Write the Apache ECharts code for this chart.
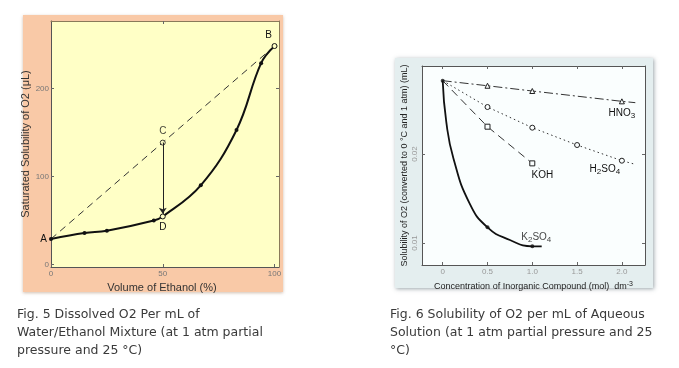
<!DOCTYPE html>
<html><head><meta charset="utf-8">
<script src="https://cdn.jsdelivr.net/npm/echarts@6/dist/echarts.min.js"></script>
<style>html,body{margin:0;padding:0;background:#fff}#c{width:679px;height:368px}</style>
</head><body><div id="c"></div>
<script>
// ---------- Fig. 5 : water / ethanol ----------
const ethanolPct     = [0, 15, 25, 46, 50, 67, 83, 94, 100];
const o2SolubilityUL = [28.9, 35.7, 38.3, 50, 54.5, 90, 153, 229, 248.5];
const idealLineX = [0, 100];
const idealLineY = [28.9, 248.5];
const pointCX = 50, pointCY = 138.6;
const arrowEndY = 57.5;
const fig5XTicks = [0, 50, 100];
const fig5YTicks = [0, 100, 200];
const fig5Labels = {0: 'A', 4: 'D', 8: 'B'};

// ---------- Fig. 6 : aqueous solutions ----------
const originX = 0, originY = 0.02824;
const hno3X = [0.5, 1.0, 2.0];
const hno3Y = [0.02767, 0.02708, 0.02592];
const hno3End = [2.15, 0.02577];
const h2so4X = [0.5, 1.0, 1.5, 2.0];
const h2so4Y = [0.02528, 0.02296, 0.02101, 0.01925];
const h2so4End = [2.15, 0.01884];
const kohX = [0.5, 1.0];
const kohY = [0.02307, 0.01895];
const kohEnd = [1.08, 0.01835];
const k2so4X = [0.5, 1.0];
const k2so4Y = [0.01176, 0.00963];
const k2so4CurveX = [0, 0.04, 0.12, 0.3, 0.5, 0.75, 1.0, 1.105];
const k2so4CurveY = [0.02824, 0.0236, 0.0195, 0.01446, 0.01176, 0.01034, 0.00963, 0.00963];
const fig6XTicks = [0, 0.5, 1.0, 1.5, 2.0];
const fig6YTicks = [0.01, 0.02];

const caption5 = 'Fig. 5 Dissolved O2 Per mL of\nWater/Ethanol Mixture (at 1 atm partial\npressure and 25 °C)';
const caption6 = 'Fig. 6 Solubility of O2 per mL of Aqueous\nSolution (at 1 atm partial pressure and 25\n°C)';

const zip = (xs, ys) => xs.map((x, i) => [x, ys[i]]);
const AX = 'Liberation Sans';

function frameAxis(kind, grid, pos, min, max, ticks, opts) {
  opts = opts || {};
  return Object.assign({
    type: 'value', gridIndex: grid, position: pos, min: min, max: max,
    splitLine: {show: false},
    axisLine: {show: true, onZero: false, lineStyle: {color: opts.lineColor || '#555', width: 1}},
    axisTick: {show: true, inside: true, length: 3, customValues: ticks, lineStyle: {color: '#666'}},
    axisLabel: {show: false}
  }, opts.extra || {});
}

const chart = echarts.init(document.getElementById('c'), null, {renderer: 'canvas'});

const fig5Curve = ethanolPct.map((x, i) => {
  const item = {value: [x, o2SolubilityUL[i]]};
  if (i === 4 || i === 8) {
    item.symbolSize = 5;
    item.itemStyle = {color: '#ffffc6', borderColor: '#111', borderWidth: 1};
  }
  if (fig5Labels[i]) {
    const pos = i === 0 ? 'left' : (i === 4 ? 'bottom' : 'top');
    item.label = {show: true, formatter: fig5Labels[i], position: pos,
      distance: i === 0 ? 2 : 3, offset: i === 8 ? [-6, 0] : [0, 0],
      fontFamily: AX, fontSize: 10, color: '#111'};
  }
  return item;
});

function openSeries(name, xs, ys, end, symbol, dash, labelRich, labelOpt) {
  const data = [{value: [originX, originY], symbol: 'none'}];
  xs.forEach((x, i) => {
    const it = {value: [x, ys[i]]};
    if (i === xs.length - 1) {
      it.label = Object.assign({show: true, formatter: labelRich, fontFamily: AX, fontSize: 10, color: '#111',
        rich: {
          n: {fontFamily: AX, fontSize: 10, color: '#111', lineHeight: 12},
          s: {fontFamily: AX, fontSize: 8, color: '#111', lineHeight: 9, verticalAlign: 'bottom', padding: [3, 0, 0, 0]}
        }}, labelOpt);
    }
    data.push(it);
  });
  data.push({value: end, symbol: 'none'});
  return {
    name: name, type: 'line', xAxisIndex: 2, yAxisIndex: 2, data: data,
    symbol: symbol, symbolSize: 5, showAllSymbol: true,
    itemStyle: {color: '#fafefe', borderColor: '#222', borderWidth: 1},
    lineStyle: {color: '#333', width: 1, type: dash},
    animation: false, z: 3
  };
}

const option = {
  animation: false,
  graphic: [
    {type: 'rect', z: -10, shape: {x: 23, y: 15, width: 260, height: 277},
     style: {fill: '#f9c9a7', shadowBlur: 3, shadowColor: 'rgba(120,70,30,0.35)', shadowOffsetY: 1}},
    {type: 'rect', z: -10, shape: {x: 395, y: 58, width: 258, height: 230},
     style: {fill: '#e4eeef', shadowBlur: 4, shadowColor: 'rgba(60,80,90,0.5)', shadowOffsetX: 1, shadowOffsetY: 1}},
    {type: 'text', left: 17, top: 306, style: {text: caption5, font: '12.5px "DejaVu Sans"', fill: '#3a3a3a', lineHeight: 18}},
    {type: 'text', left: 390, top: 306, style: {text: caption6, font: '12.5px "DejaVu Sans"', fill: '#3a3a3a', lineHeight: 18}}
  ],
  grid: [
    {left: 51, top: 21, width: 228, height: 246, show: true, backgroundColor: '#ffffc6', borderWidth: 0},
    {left: 422, top: 66, width: 223, height: 199, show: true, backgroundColor: '#fafefe', borderWidth: 0}
  ],
  xAxis: [
    frameAxis('x', 0, 'bottom', 0, 102, fig5XTicks, {extra: {
      axisLabel: {show: true, customValues: fig5XTicks, color: '#777', fontFamily: AX, fontSize: 8, margin: 3},
      name: 'Volume of Ethanol (%)', nameLocation: 'middle', nameGap: 11,
      nameTextStyle: {fontFamily: AX, fontSize: 11, color: '#333', padding: [0, 6, 0, 0]}
    }}),
    frameAxis('x', 0, 'top', 0, 102, [50], {lineColor: '#8a7a5a'}),
    frameAxis('x', 1, 'bottom', -0.231, 2.258, fig6XTicks, {extra: {
      axisLabel: {show: true, customValues: fig6XTicks, color: '#999', fontFamily: AX, fontSize: 8, margin: 3,
        formatter: v => v === 0 ? '0' : v.toFixed(1)},
      name: '{n|Concentration of Inorganic Compound (mol)  dm}{p|-3}', nameLocation: 'middle', nameGap: 12,
      nameTextStyle: {fontFamily: AX, fontSize: 9, color: '#222',
        rich: {n: {fontFamily: AX, fontSize: 9, color: '#222', lineHeight: 12},
               p: {fontFamily: AX, fontSize: 7, color: '#222', lineHeight: 8, verticalAlign: 'top'}}}
    }}),
    frameAxis('x', 1, 'top', -0.231, 2.258, fig6XTicks, {})
  ],
  yAxis: [
    frameAxis('y', 0, 'left', -3, 277, fig5YTicks, {extra: {
      axisLabel: {show: true, customValues: fig5YTicks, color: '#777', fontFamily: AX, fontSize: 8, margin: 2},
      name: 'Saturated Solubility of O2 (μL)', nameLocation: 'middle', nameGap: 16, nameRotate: 90,
      nameTextStyle: {fontFamily: AX, fontSize: 11, color: '#333'}
    }}),
    frameAxis('y', 0, 'right', -3, 277, [100, 200], {lineColor: '#8a7a5a'}),
    frameAxis('y', 1, 'left', 0.00753, 0.02989, fig6YTicks, {extra: {
      axisLabel: {show: true, customValues: fig6YTicks, color: '#999', fontFamily: AX, fontSize: 8, margin: 3, rotate: 90,
        formatter: v => v.toFixed(2)},
      name: 'Solubility of O2 (converted to 0 °C and 1 atm) (mL)', nameLocation: 'middle', nameGap: 13, nameRotate: 90,
      nameTextStyle: {fontFamily: AX, fontSize: 9, color: '#222'}
    }}),
    frameAxis('y', 1, 'right', 0.00753, 0.02989, fig6YTicks, {})
  ],
  series: [
    {type: 'line', xAxisIndex: 0, yAxisIndex: 0, data: zip(idealLineX, idealLineY), symbol: 'none',
     lineStyle: {color: '#333', width: 1, type: [7, 5]}, z: 2},
    {type: 'scatter', xAxisIndex: 0, yAxisIndex: 0, data: [[pointCX, pointCY]], symbol: 'circle', symbolSize: 5,
     itemStyle: {color: '#ffffc6', borderColor: '#111', borderWidth: 1},
     label: {show: true, formatter: 'C', position: 'top', distance: 3, fontFamily: AX, fontSize: 10, color: '#111'},
     markLine: {silent: true, symbol: ['none', 'arrow'], symbolSize: 6, label: {show: false},
       lineStyle: {color: '#222', width: 1, type: 'solid'},
       data: [[{coord: [pointCX, pointCY]}, {coord: [pointCX, arrowEndY]}]]}, z: 4},
    {type: 'line', xAxisIndex: 0, yAxisIndex: 0, data: fig5Curve, smooth: 0.4, symbol: 'circle', symbolSize: 4,
     showAllSymbol: true, itemStyle: {color: '#111'}, lineStyle: {color: '#111', width: 2}, z: 5},

    {type: 'line', xAxisIndex: 2, yAxisIndex: 2, data: zip(k2so4CurveX, k2so4CurveY), smooth: 0.5, symbol: 'none',
     lineStyle: {color: '#111', width: 1.8}, z: 2},
    openSeries('HNO3', hno3X, hno3Y, hno3End, 'triangle', [9, 3, 2, 3], '{n|HNO}{s|3}', {position: 'bottom', distance: 3}),
    openSeries('H2SO4', h2so4X, h2so4Y, h2so4End, 'circle', [1.5, 3], '{n|H}{s|2}{n|SO}{s|4}', {position: 'bottom', distance: 0, offset: [-17, 0]}),
    openSeries('KOH', kohX, kohY, kohEnd, 'rect', [8, 5], '{n|KOH}', {position: 'bottom', distance: 3, offset: [10, 0]}),
    {type: 'scatter', xAxisIndex: 2, yAxisIndex: 2,
     data: zip(k2so4X, k2so4Y).map((p, i) => i === 1 ? {value: p, label: {show: true, position: 'top', distance: 1, offset: [4, 0],
       formatter: '{n|K}{s|2}{n|SO}{s|4}',
       rich: {n: {fontFamily: AX, fontSize: 10, color: '#111', lineHeight: 12},
              s: {fontFamily: AX, fontSize: 8, color: '#111', lineHeight: 9, verticalAlign: 'bottom', padding: [3, 0, 0, 0]}}}} : p),
     symbol: 'circle', symbolSize: 4, itemStyle: {color: '#111'}, z: 4},
    {type: 'scatter', xAxisIndex: 2, yAxisIndex: 2, data: [[originX, originY]], symbol: 'circle', symbolSize: 4,
     itemStyle: {color: '#111'}, z: 5}
  ]
};
chart.setOption(option);
</script></body></html>
